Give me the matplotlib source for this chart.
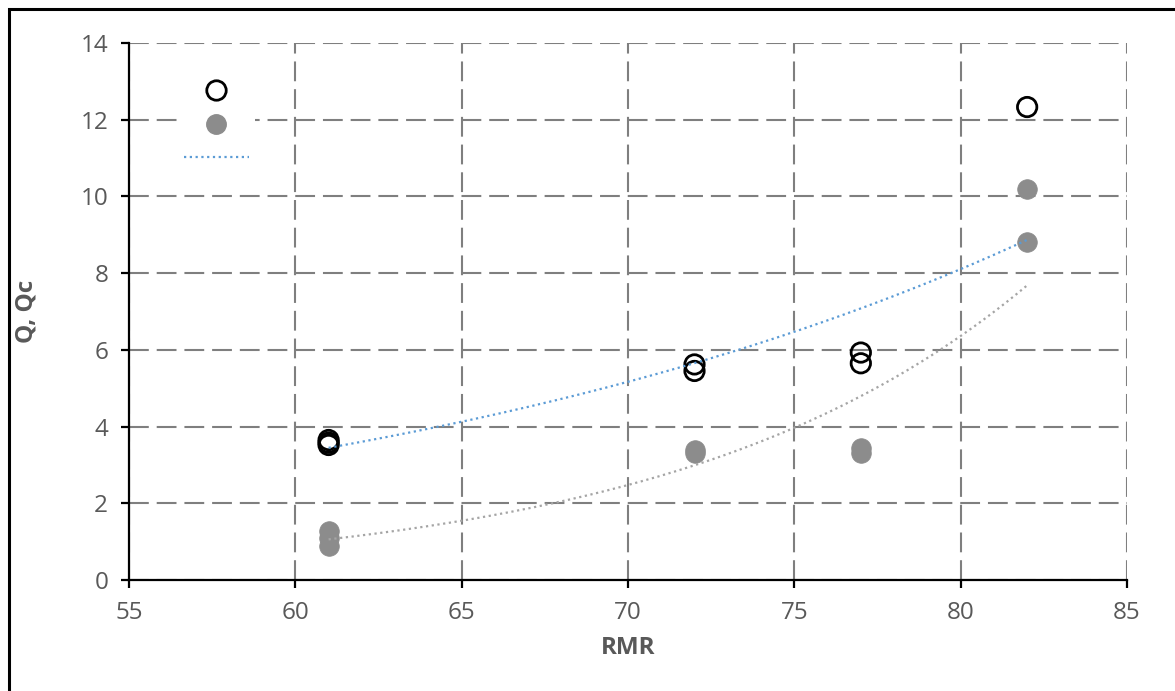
import numpy as np
import matplotlib
matplotlib.use("Agg")
import matplotlib.pyplot as plt
from matplotlib.lines import Line2D
from matplotlib.patches import Rectangle

plt.rcParams['font.family'] = ['Open Sans', 'DejaVu Sans']

# Data
rmr_q = [61, 61, 61, 72, 72, 77, 77, 82]
q_vals = [3.65, 3.58, 3.52, 5.62, 5.45, 5.93, 5.65, 12.33]
rmr_qc = [61, 61, 61, 72, 72, 77, 77, 82, 82]
qc_vals = [1.28, 1.10, 0.90, 3.38, 3.30, 3.45, 3.30, 10.2, 8.8]

x_ticks = [55, 60, 65, 70, 75, 80, 85]
y_ticks = [0, 2, 4, 6, 8, 10, 12, 14]

fig = plt.figure(figsize=(11.75, 6.91), dpi=100)
ax = fig.add_axes([0.1098, 0.1606, 0.8493, 0.7772])

grid_col = '#7f7f7f'
ax.set_xlim(55, 85)
ax.set_ylim(0, 14)
ax.set_xticks(x_ticks)
ax.set_yticks(y_ticks)
ax.grid(True, color=grid_col, linestyle=(0, (9.5, 3.8)), linewidth=1.5)
ax.set_axisbelow(True)
for s in ['top', 'right']:
    ax.spines[s].set_visible(False)
for s in ['left', 'bottom']:
    ax.spines[s].set_color('black')
    ax.spines[s].set_linewidth(1.6)
ax.tick_params(axis='both', direction='out', length=6, width=1.6, color='black',
               labelsize=17.5, labelcolor='#595959', pad=9)

def exp_fit(x, y):
    x = np.asarray(x, float)
    y = np.asarray(y, float)
    b, ln_a = np.polyfit(x, np.log(y), 1)
    xs = np.linspace(x.min(), x.max(), 200)
    return xs, np.exp(ln_a) * np.exp(b * xs)

xq, yq = exp_fit(rmr_q, q_vals)
xc, yc = exp_fit(rmr_qc, qc_vals)

blue = '#5b9bd5'
gray_m = '#8c8c8c'
gray_t = '#a5a5a5'

ax.scatter(rmr_qc, qc_vals, s=200, color=gray_m, edgecolors=gray_m, linewidths=0.5, zorder=3)
ax.scatter(rmr_q, q_vals, s=195, facecolors='none', edgecolors='black', linewidths=2.0, zorder=4)
ax.plot(xq, yq, color=blue, linestyle=(0, (1, 1.6)), linewidth=1.6, zorder=5)
ax.plot(xc, yc, color=gray_t, linestyle=(0, (1, 1.6)), linewidth=1.6, zorder=5)

ax.set_xlabel('RMR', fontsize=17.5, fontweight='bold', color='#595959', labelpad=8)
ax.set_ylabel('Q, Qc', fontsize=17.5, fontweight='bold', color='#595959', labelpad=30)

handles = [
    Line2D([], [], marker='o', linestyle='none', markersize=14, markerfacecolor='none',
           markeredgecolor='black', markeredgewidth=2.0),
    Line2D([], [], marker='o', linestyle='none', markersize=14, markerfacecolor=gray_m,
           markeredgecolor=gray_m),
    Line2D([], [], color=blue, linestyle=(0, (1, 1.6)), linewidth=1.6),
]
leg = ax.legend(handles, ['', '', ''], loc='center', bbox_to_anchor=(0.0872, 0.8464),
                fontsize=12, handlelength=3.9, handletextpad=0, labelspacing=1.05,
                borderpad=0.4, frameon=True, fancybox=False, framealpha=1.0)
leg.get_frame().set_facecolor('white')
leg.get_frame().set_edgecolor('none')

# figure border (top & left visible)
fig.patches.append(Rectangle((9 / 1175, -0.05), 1.2, 1 - 9 / 691 + 0.05,
                             transform=fig.transFigure, fill=False,
                             edgecolor='black', linewidth=2.2))

fig.savefig('out.png', dpi=100)
